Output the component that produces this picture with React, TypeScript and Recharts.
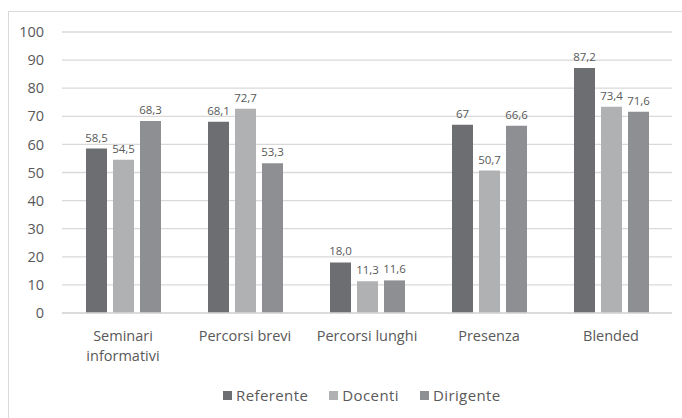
import React from "react";
import { BarChart, Bar, XAxis, YAxis, CartesianGrid, Legend, LabelList } from "recharts";

const categories = ["Seminari\ninformativi", "Percorsi brevi", "Percorsi lunghi", "Presenza", "Blended"];
const referente = [58.5, 68.1, 18.0, 67, 87.2];
const docenti = [54.5, 72.7, 11.3, 50.7, 73.4];
const dirigente = [68.3, 53.3, 11.6, 66.6, 71.6];
const referenteLabels = ["58,5", "68,1", "18,0", "67", "87,2"];
const docentiLabels = ["54,5", "72,7", "11,3", "50,7", "73,4"];
const dirigenteLabels = ["68,3", "53,3", "11,6", "66,6", "71,6"];
const yTicks = [0, 10, 20, 30, 40, 50, 60, 70, 80, 90, 100];

const seriesNames = ["Referente", "Docenti", "Dirigente"];
const colors = ["#6d6e71", "#b0b1b3", "#8e8f92"];

const data = categories.map((c, i) => ({
  name: c,
  Referente: referente[i],
  Docenti: docenti[i],
  Dirigente: dirigente[i],
  lRef: referenteLabels[i],
  lDoc: docentiLabels[i],
  lDir: dirigenteLabels[i],
}));

const FONT = "'Open Sans', sans-serif";
const TEXT = "#595959";

const XTick = (props: any) => {
  const { x, y, payload } = props;
  const lines = String(payload.value).split("\n");
  return (
    <g>
      {lines.map((l: string, i: number) => (
        <text key={i} x={x} y={y + 20 + i * 20} textAnchor="middle" fill={TEXT} fontSize={14.5} fontFamily={FONT}>
          {l}
        </text>
      ))}
    </g>
  );
};

const LegendContent = () => (
  <div style={{ display: "flex", justifyContent: "flex-start", paddingLeft: 223, gap: 21, fontFamily: FONT, fontSize: 15, color: TEXT, letterSpacing: 0.4 }}>
    {seriesNames.map((n, i) => (
      <div key={n} style={{ display: "flex", alignItems: "center" }}>
        <span style={{ display: "inline-block", width: 9, height: 9, background: colors[i], marginRight: 4 }} />
        <span>{n}</span>
      </div>
    ))}
  </div>
);

export default function App() {
  const labelKeys = ["lRef", "lDoc", "lDir"];
  return (
    <div style={{ position: "fixed", left: 0, top: 0, width: 682, height: 418, background: "#fff" }}>
      <div style={{ position: "absolute", left: 8, top: 11, width: 700, height: 420, border: "1px solid #d9d9d9", boxSizing: "border-box" }} />
      <div style={{ position: "absolute", left: 0, top: 0 }}>
        <BarChart
          width={682}
          height={418}
          data={data}
          margin={{ top: 32, right: 10, left: 8, bottom: 45 }}
          barCategoryGap="19%"
          barGap={6}
        >
          <CartesianGrid vertical={false} stroke="#d9d9d9" strokeWidth={1.3} />
          <XAxis
            dataKey="name"
            height={60}
            axisLine={{ stroke: "#d9d9d9", strokeWidth: 1.3 }}
            tickLine={false}
            tick={<XTick />}
            interval={0}
          />
          <YAxis
            width={54}
            domain={[0, 100]}
            ticks={yTicks}
            axisLine={false}
            tickLine={false}
            tick={{ fill: TEXT, fontSize: 14.5, fontFamily: FONT }}
            tickMargin={12}
          />
          <Legend verticalAlign="middle" wrapperStyle={{ top: 385, left: 0, width: 682 }} content={<LegendContent />} />
          {seriesNames.map((n, i) => (
            <Bar key={n} dataKey={n} fill={colors[i]} barSize={21} isAnimationActive={false}>
              <LabelList dataKey={labelKeys[i]} position="top" offset={7} fill={TEXT} fontSize={11.5} fontFamily={FONT} />
            </Bar>
          ))}
        </BarChart>
      </div>
    </div>
  );
}
